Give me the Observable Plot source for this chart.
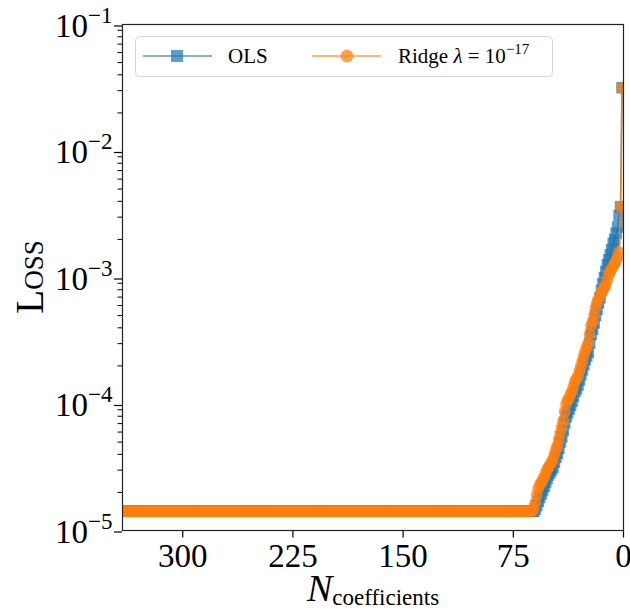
<!DOCTYPE html>
<html><head><meta charset="utf-8">
<script src="https://cdn.jsdelivr.net/npm/d3@7"></script>
<script src="https://cdn.jsdelivr.net/npm/@observablehq/plot@0.6"></script>
<style>
html,body{margin:0;padding:0;background:#fff;}
#chart{width:630px;height:613px;overflow:hidden;}
</style></head><body><div id="chart"></div>
<script>
// ---------- data ----------
const nMax = 341;                 // left edge of the x axis (N coefficients)
const flatStartN = 63;            // plateau covers N = 63 .. nMax
const flatLoss = 1.42e-5;         // plateau loss, both series
const risingN = d3.range(1, 63);  // N = 1 .. 62
const olsLoss = [
  3.16e-2, 3.63e-3, 3.09e-3, 2.51e-3, 2.24e-3, 2.00e-3, 1.86e-3, 1.66e-3, 1.51e-3, 1.38e-3,
  1.26e-3, 1.12e-3, 1.00e-3, 8.91e-4, 7.94e-4, 6.92e-4, 6.31e-4, 5.62e-4, 5.01e-4, 4.37e-4,
  3.89e-4, 3.55e-4, 3.02e-4, 2.57e-4, 2.40e-4, 2.24e-4, 2.04e-4, 1.86e-4, 1.70e-4, 1.55e-4,
  1.41e-4, 1.32e-4, 1.26e-4, 1.15e-4, 1.05e-4, 9.77e-5, 9.12e-5, 8.51e-5, 7.94e-5, 7.08e-5,
  6.17e-5, 5.50e-5, 5.01e-5, 4.47e-5, 4.07e-5, 3.80e-5, 3.47e-5, 3.16e-5, 3.02e-5, 2.88e-5,
  2.75e-5, 2.57e-5, 2.40e-5, 2.24e-5, 2.09e-5, 1.95e-5, 1.82e-5, 1.70e-5, 1.58e-5, 1.48e-5,
  1.42e-5, 1.42e-5
];
const ridgeLoss = [
  3.16e-2, 3.63e-3, 1.58e-3, 1.45e-3, 1.35e-3, 1.29e-3, 1.23e-3, 1.17e-3, 1.12e-3, 1.05e-3,
  9.55e-4, 8.71e-4, 8.32e-4, 7.94e-4, 7.59e-4, 7.24e-4, 6.76e-4, 6.31e-4, 5.75e-4, 5.01e-4,
  4.47e-4, 4.17e-4, 3.55e-4, 3.02e-4, 2.82e-4, 2.63e-4, 2.40e-4, 2.19e-4, 2.00e-4, 1.82e-4,
  1.66e-4, 1.58e-4, 1.51e-4, 1.38e-4, 1.26e-4, 1.20e-4, 1.12e-4, 1.07e-4, 1.00e-4, 8.71e-5,
  7.41e-5, 6.61e-5, 5.89e-5, 5.25e-5, 4.68e-5, 4.37e-5, 3.98e-5, 3.63e-5, 3.47e-5, 3.31e-5,
  3.16e-5, 3.02e-5, 2.82e-5, 2.63e-5, 2.51e-5, 2.40e-5, 2.29e-5, 2.14e-5, 1.91e-5, 1.66e-5,
  1.51e-5, 1.42e-5
];
const xTicks = [300, 225, 150, 75, 0];
const yMajorTicks = [1e-5, 1e-4, 1e-3, 1e-2, 1e-1];
const yExponents = ["−5", "−4", "−3", "−2", "−1"];
const seriesNames = ["OLS", "Ridge"];

// ---------- build tables ----------
const flatN = d3.range(flatStartN, nMax + 1);
function series(vals) {
  return risingN.map((n, i) => ({n, loss: vals[i]}))
    .concat(flatN.map(n => ({n, loss: flatLoss})));
}
const ols = series(olsLoss);
const ridge = series(ridgeLoss);
const yMinorTicks = [];
for (const t of yMajorTicks.slice(0, -1)) for (let m = 2; m <= 9; m++) yMinorTicks.push(m * t);

const blue = "#1f77b4", orange = "#ff7f0e";
const serif = "'Liberation Serif', 'DejaVu Serif', serif";

const plot = Plot.plot({
  width: 630, height: 613,
  marginLeft: 122, marginRight: 7, marginTop: 24, marginBottom: 83,
  x: {domain: [nMax, 0]},
  y: {type: "log", domain: [1e-5, 1e-1]},
  style: {fontFamily: serif, fontSize: "33px", background: "white", color: "black", overflow: "visible"},
  marks: [
    Plot.line(ols, {x: "n", y: "loss", stroke: blue, strokeOpacity: 0.75, strokeWidth: 1.6, clip: true}),
    Plot.dot(ols, {x: "n", y: "loss", symbol: "square", r: 6.5, fill: blue, fillOpacity: 0.72, stroke: "none", clip: true}),
    Plot.line(ridge, {x: "n", y: "loss", stroke: orange, strokeOpacity: 0.75, strokeWidth: 1.6, clip: true}),
    Plot.dot(ridge, {x: "n", y: "loss", symbol: "circle", r: 6, fill: orange, fillOpacity: 0.72, stroke: "none", clip: true}),
    Plot.axisX({ticks: xTicks, tickSize: 7.5, tickPadding: 6, tickFormat: d => String(d), label: null, strokeWidth: 1.2}),
    Plot.axisY({ticks: yMinorTicks, tickSize: 4.5, tickFormat: () => "", label: null, strokeWidth: 1}),
    Plot.axisY({ticks: yMajorTicks, tickSize: 8, tickPadding: 2, dy: 1.5,
      tickFormat: d => yExponents[yMajorTicks.indexOf(d)], label: null, strokeWidth: 1.2}),
    Plot.frame({stroke: "#222", strokeWidth: 1.2})
  ]
});
document.getElementById("chart").appendChild(plot);

const svg = d3.select(plot);

// y tick labels as 10^{k}
svg.selectAll('g[aria-label="y-axis tick label"] text').each(function() {
  const exp = this.textContent;
  if (!exp) return;
  const t = d3.select(this);
  t.text(null);
  t.append("tspan").text("10");
  t.append("tspan").attr("dy", "-14").attr("font-size", "23px").text(exp);
});

// y label
svg.append("text")
  .attr("transform", "translate(43,277) rotate(-90)")
  .attr("text-anchor", "middle")
  .attr("font-family", serif)
  .attr("font-size", "39px")
  .style("font-variant", "small-caps")
  .attr("fill", "black")
  .text("Loss");

// x label N_coefficients
const xl = svg.append("text")
  .attr("x", 373).attr("y", 601)
  .attr("text-anchor", "middle")
  .attr("font-family", serif)
  .attr("fill", "black");
xl.append("tspan").attr("font-style", "italic").attr("font-size", "38px").text("N");
xl.append("tspan").attr("font-size", "23px").attr("dy", "4").text("coefficients");

// legend
const lg = svg.append("g").attr("font-family", serif).attr("fill", "black").attr("text-anchor", "start");
lg.append("rect").attr("x", 135.5).attr("y", 36.5).attr("width", 417).attr("height", 40).attr("rx", 4)
  .attr("fill", "white").attr("fill-opacity", 0.8).attr("stroke", "#d6d6d6").attr("stroke-width", 1);
lg.append("line").attr("x1", 143).attr("x2", 212).attr("y1", 56).attr("y2", 56)
  .attr("stroke", blue).attr("stroke-opacity", 0.75).attr("stroke-width", 1.6);
lg.append("rect").attr("x", 171).attr("y", 50).attr("width", 12).attr("height", 12)
  .attr("fill", blue).attr("fill-opacity", 0.72);
lg.append("text").attr("x", 228).attr("y", 63).attr("text-anchor", "start").attr("font-size", "21px").text(seriesNames[0]);
lg.append("line").attr("x1", 312).attr("x2", 381).attr("y1", 56).attr("y2", 56)
  .attr("stroke", orange).attr("stroke-opacity", 0.75).attr("stroke-width", 1.6);
lg.append("circle").attr("cx", 347).attr("cy", 56).attr("r", 6.5)
  .attr("fill", orange).attr("fill-opacity", 0.72);
const rt = lg.append("text").attr("x", 398).attr("y", 63).attr("text-anchor", "start").attr("font-size", "21px");
rt.append("tspan").text(seriesNames[1] + " ");
rt.append("tspan").attr("font-style", "italic").text("λ");
rt.append("tspan").text(" = 10");
rt.append("tspan").attr("dy", "-9").attr("font-size", "15px").text("−17");
</script>
</body></html>
